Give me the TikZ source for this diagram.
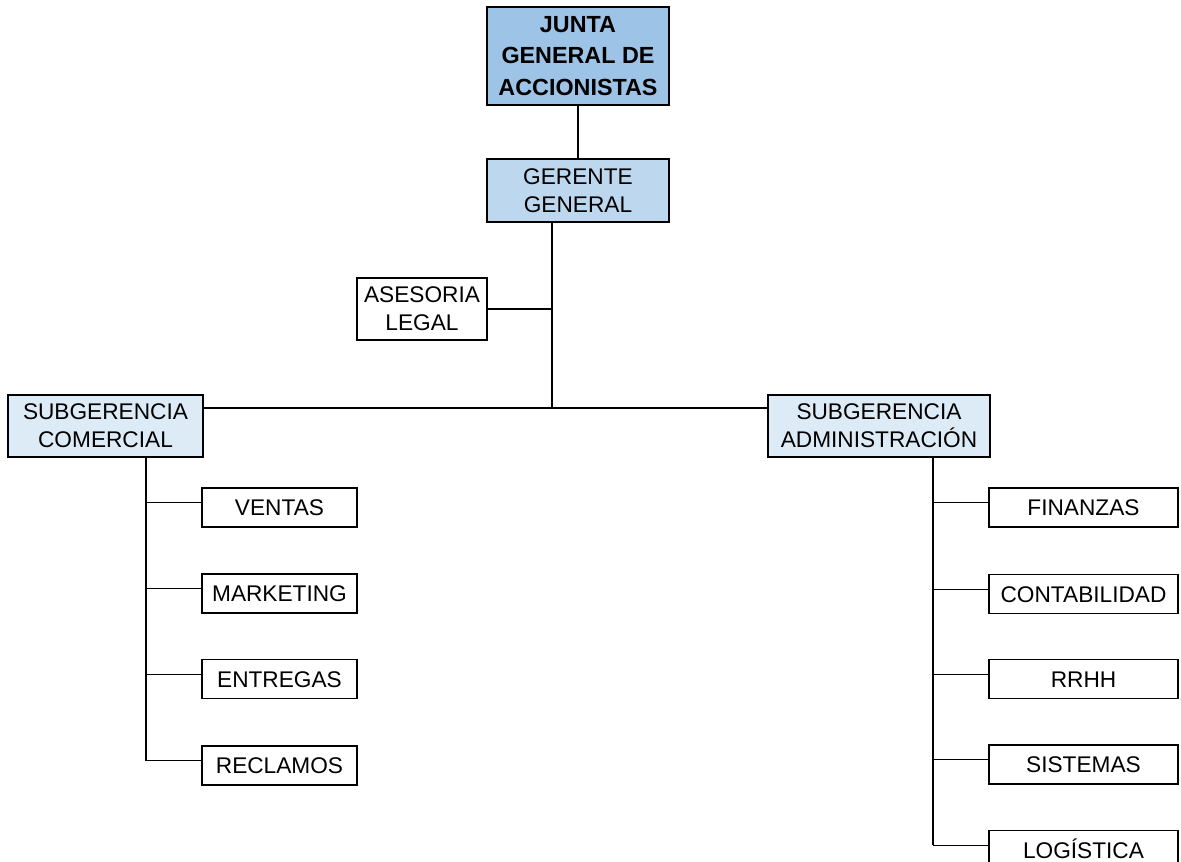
\documentclass[tikz,border=0pt]{standalone}
\usepackage{fontspec}
\setmainfont{Liberation Sans}
\usepackage{xcolor}
\usepackage{tikz}
\usetikzlibrary{shapes,arrows,positioning}

\definecolor{juntablue}{RGB}{157,195,230}
\definecolor{gerenteblue}{RGB}{189,215,238}
\definecolor{subblue}{RGB}{221,235,247}

\begin{document}
\begin{tikzpicture}[
                x=0.75pt,
                y=-0.75pt,
                cargo/.style={
                    draw,
                    line width=1.2pt,
                    inner sep=0pt,
                    align=center,
                    font=\fontsize{17}{21}\selectfont
                },
                area/.style={
                    cargo,
                    minimum width=116.25pt,
                    minimum height=29.25pt,
                    text height=12.2pt,
                    text depth=0pt
                },
                linea/.style={
                    -,
                    line width=0.9pt
                }
            ]

                \useasboundingbox (0,0) rectangle (1181,862);

                % direccion
                \node[
                    cargo,
                    fill=juntablue,
                    minimum width=136.5pt,
                    minimum height=73.5pt,
                    font=\fontsize{17.5}{23.5}\selectfont\bfseries
                    ] (junta) at (578,56) {JUNTA\\GENERAL DE\\ACCIONISTAS};

                \node[
                    cargo,
                    fill=gerenteblue,
                    minimum width=136.5pt,
                    minimum height=47.25pt
                    ] (gerente) at (578,190.5) {GERENTE\\GENERAL};

                \node[
                    cargo,
                    minimum width=97.5pt,
                    minimum height=46.5pt
                    ] (asesoria) at (422,309) {ASESORIA\\LEGAL};

                \node[
                    cargo,
                    fill=subblue,
                    minimum width=146.25pt,
                    minimum height=46.5pt
                    ] (subcom) at (105.5,426) {SUBGERENCIA\\COMERCIAL};

                \node[
                    cargo,
                    fill=subblue,
                    minimum width=166.5pt,
                    minimum height=46.5pt
                    ] (subadm) at (879,426) {SUBGERENCIA\\ADMINISTRACIÓN};

                % areas comerciales
                \node[area] (ventas) at (279.5,507.5) {VENTAS};
                \node[area] (marketing) at (279.5,593.5) {MARKETING};
                \node[area] (entregas) at (279.5,679) {ENTREGAS};
                \node[area] (reclamos) at (279.5,765.5) {RECLAMOS};

                % areas administrativas
                \node[area, minimum width=141.75pt] (finanzas) at (1083.5,507.5) {FINANZAS};
                \node[area, minimum width=141.75pt] (contabilidad) at (1083.5,594) {CONTABILIDAD};
                \node[area, minimum width=141.75pt] (rrhh) at (1083.5,679) {RRHH};
                \node[area, minimum width=141.75pt] (sistemas) at (1083.5,764.5) {SISTEMAS};
                \node[area, minimum width=141.75pt] (logistica) at (1083.5,850) {LOGÍSTICA};

                \coordinate (hub) at (552,408);
                \coordinate (troncoizq) at (146,0);
                \coordinate (troncoder) at (933,0);

                \draw[linea] (junta.south) -- (gerente.north);
                \draw[linea] (gerente.south -| hub) -- (hub);
                \draw[linea] (asesoria.east) -- (asesoria.east -| hub);
                \draw[linea] (subcom.east |- hub) -- (subadm.west |- hub);

                \draw[linea] (subcom.south -| troncoizq) -- ([yshift=3.5pt]reclamos.west -| troncoizq);
                \foreach \n in {ventas,marketing,entregas,reclamos}
                    \draw[linea] ([yshift=3.5pt]\n.west -| troncoizq) -- ([yshift=3.5pt]\n.west);

                \draw[linea] (subadm.south -| troncoder) -- ([yshift=3.5pt]logistica.west -| troncoder);
                \foreach \n in {finanzas,contabilidad,rrhh,sistemas,logistica}
                    \draw[linea] ([yshift=3.5pt]\n.west -| troncoder) -- ([yshift=3.5pt]\n.west);

            \end{tikzpicture}
\end{document}
